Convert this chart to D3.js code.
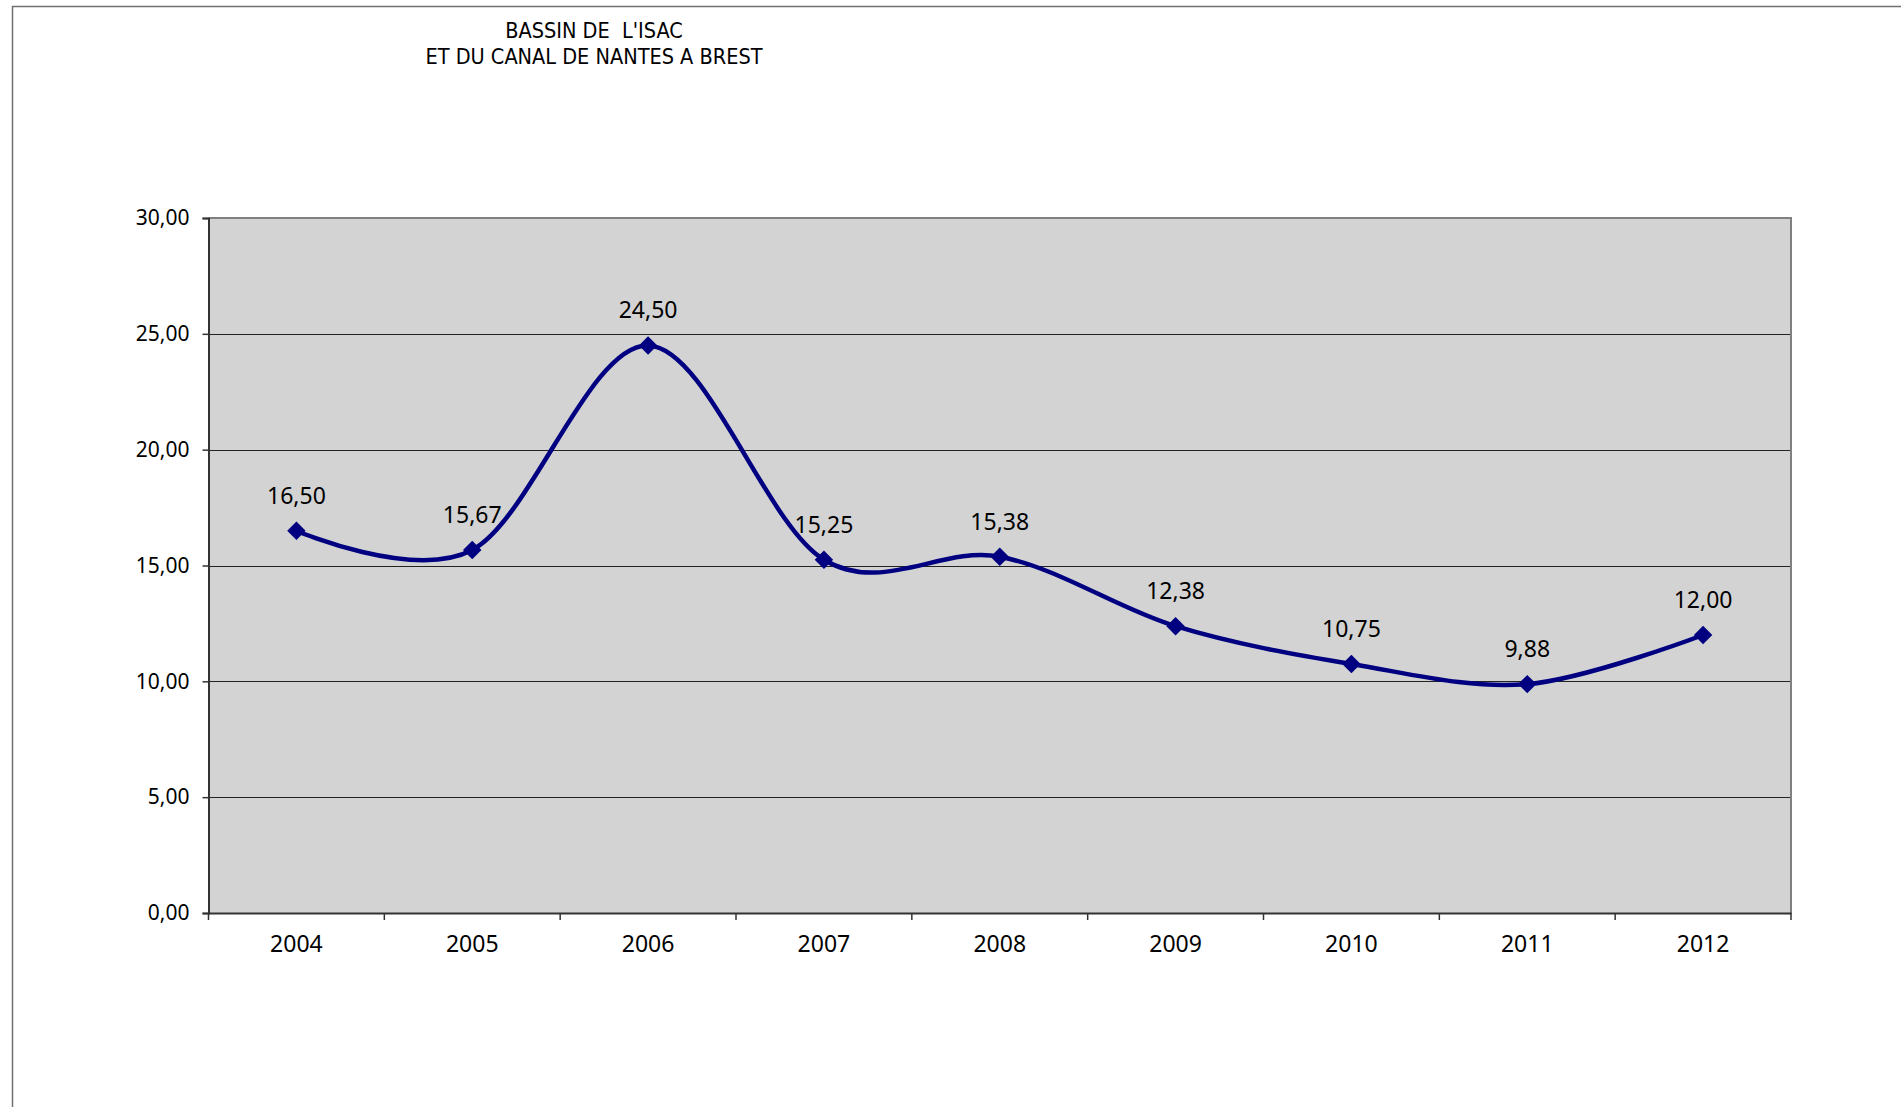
<!DOCTYPE html>
<html>
<head>
<meta charset="utf-8">
<script src="https://cdn.jsdelivr.net/npm/d3@7"></script>
<style>
  body { margin: 0; background: #fff; }
  svg { display: block; }
  .tick text { fill: #000; }
</style>
</head>
<body>
<div id="chart"></div>
<script>
// data
const years = ['2004', '2005', '2006', '2007', '2008', '2009', '2010', '2011', '2012'];
const values = [16.50, 15.67, 24.50, 15.25, 15.38, 12.38, 10.75, 9.88, 12.00];
const yTicks = [0, 5, 10, 15, 20, 25, 30];
const titleLines = ['BASSIN DE  L\'ISAC', 'ET DU CANAL DE NANTES A BREST'];

const config = {
  width: 1901,
  height: 1107,
  margin: { top: 218, right: 110, bottom: 194, left: 208.5 },
  lineColor: '#000080',
  plotFill: '#d3d3d3',
  font: '"Noto Sans", "DejaVu Sans", sans-serif'
};

const fmt = v => d3.format('.2f')(v).replace('.', ',');

const svg = d3.select('#chart')
  .append('svg')
  .attr('width', config.width)
  .attr('height', config.height);

// outer chart frame (runs off the picture at right and bottom)
svg.append('rect')
  .attr('x', 12.5)
  .attr('y', 6.5)
  .attr('width', config.width + 20)
  .attr('height', config.height + 20)
  .attr('fill', 'none')
  .attr('stroke', '#707070')
  .attr('stroke-width', 1.5);

// title
svg.append('text')
  .attr('x', 594)
  .attr('y', 38)
  .attr('text-anchor', 'middle')
  .style('font-family', '"Liberation Sans Narrow", "DejaVu Sans Condensed", sans-serif')
  .style('font-size', '21.5px')
  .selectAll('tspan')
  .data(titleLines)
  .enter()
  .append('tspan')
  .attr('x', 594)
  .attr('dy', (d, i) => i ? 26 : 0)
  .style('white-space', 'pre')
  .text(d => d);

const m = config.margin;
const x = d3.scaleBand()
  .domain(years)
  .range([m.left, config.width - m.right]);

const y = d3.scaleLinear()
  .domain([0, 30])
  .range([config.height - m.bottom, m.top]);

// plot area
svg.append('rect')
  .attr('x', x.range()[0])
  .attr('y', y(30))
  .attr('width', x.range()[1] - x.range()[0])
  .attr('height', y(0) - y(30))
  .attr('fill', config.plotFill);

// grid lines
svg.append('g')
  .selectAll('line')
  .data(yTicks.filter(d => d > 0 && d < 30))
  .enter()
  .append('line')
  .attr('x1', x.range()[0])
  .attr('x2', x.range()[1])
  .attr('y1', d => Math.round(y(d)) + 0.5)
  .attr('y2', d => Math.round(y(d)) + 0.5)
  .attr('stroke', '#222')
  .attr('stroke-width', 1);

// top / right border of plot
svg.append('path')
  .attr('d', `M${x.range()[0]},${y(30)}H${x.range()[1]}V${y(0)}`)
  .attr('fill', 'none')
  .attr('stroke', '#808080')
  .attr('stroke-width', 2);

// y axis
const yAxis = d3.axisLeft(y)
  .tickValues(yTicks)
  .tickSize(6)
  .tickPadding(13)
  .tickFormat(fmt);

svg.append('g')
  .attr('class', 'axis yAxis')
  .attr('transform', `translate(${x.range()[0]},0)`)
  .call(yAxis)
  .call(g => g.select('.domain').attr('stroke', '#333').attr('stroke-width', 2))
  .call(g => g.selectAll('.tick line').attr('stroke', '#333').attr('stroke-width', 1.5))
  .selectAll('text')
  .style('font-family', config.font)
  .style('font-size', '21px');

// x axis, ticks sit between categories
const xAxis = d3.axisBottom(x)
  .tickSize(0)
  .tickPadding(23);

const xg = svg.append('g')
  .attr('class', 'axis xAxis')
  .attr('transform', `translate(0,${y(0)})`)
  .call(xAxis);

xg.select('.domain').attr('stroke', '#333').attr('stroke-width', 2);
xg.selectAll('text')
  .style('font-family', config.font)
  .style('font-size', '23px');

xg.selectAll('line.sep')
  .data(years.concat(['end']))
  .enter()
  .append('line')
  .attr('class', 'sep')
  .attr('x1', (d, i) => x.range()[0] + i * x.step())
  .attr('x2', (d, i) => x.range()[0] + i * x.step())
  .attr('y1', 0)
  .attr('y2', 7)
  .attr('stroke', '#333')
  .attr('stroke-width', 1.5);

const points = years.map((yr, i) => ({ year: yr, value: values[i] }));
const cx = d => x(d.year) + x.bandwidth() / 2;

// smoothed line
const line = d3.line()
  .x(cx)
  .y(d => y(d.value))
  .curve(d3.curveCardinal.tension(0));

svg.append('path')
  .datum(points)
  .attr('d', line)
  .attr('fill', 'none')
  .attr('stroke', config.lineColor)
  .attr('stroke-width', 4.5)
  .attr('stroke-linejoin', 'round');

// diamond markers
svg.append('g')
  .selectAll('path')
  .data(points)
  .enter()
  .append('path')
  .attr('d', d3.symbol().type(d3.symbolSquare).size(170))
  .attr('transform', d => `translate(${cx(d)},${y(d.value)}) rotate(45)`)
  .attr('fill', config.lineColor);

// value labels
svg.append('g')
  .selectAll('text')
  .data(points)
  .enter()
  .append('text')
  .attr('x', cx)
  .attr('y', d => y(d.value) - 27)
  .attr('text-anchor', 'middle')
  .style('font-family', config.font)
  .style('font-size', '23px')
  .text(d => fmt(d.value));
</script>
</body>
</html>
